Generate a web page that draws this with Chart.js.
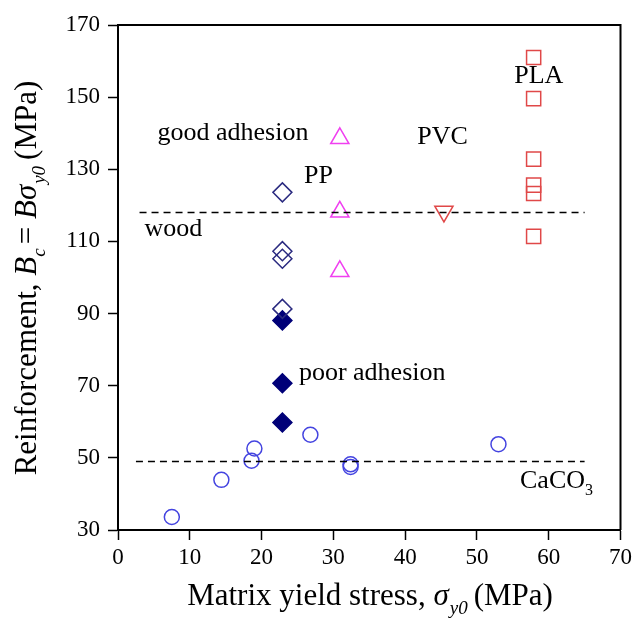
<!DOCTYPE html>
<html>
<head>
<meta charset="utf-8">
<script src="https://cdn.jsdelivr.net/npm/chart.js@4"></script>
<style>
  html, body { margin: 0; padding: 0; background: #fff; }
  #wrap { width: 636px; height: 621px; }
</style>
</head>
<body>
<div id="wrap"><canvas id="chart" width="636" height="621"></canvas></div>
<script>
// open circles
const circleX = [7.5, 14.4, 18.6, 19.0, 26.8, 32.4, 32.4, 53.0];
const circleY = [33.6, 43.9, 49.2, 52.6, 56.4, 47.5, 48.2, 53.8];
// PP, open and filled diamonds
const diamondOpenX = [22.9, 22.9, 22.9, 22.9];
const diamondOpenY = [123.6, 107.3, 105.2, 91.3];
const diamondFillX = [22.9, 22.9, 22.9];
const diamondFillY = [88.1, 70.7, 59.8];
// triangles up / down
const triUpX = [30.9, 30.9, 30.9];
const triUpY = [138.6, 118.2, 101.7];
const triDownX = [45.4];
const triDownY = [118.3];
// PLA squares
const squareX = [57.9, 57.9, 57.9, 57.9, 57.9, 57.9];
const squareY = [161.0, 149.6, 132.8, 125.6, 123.3, 111.4];
// reference lines
const woodX = [3, 65];
const woodY = [118, 118];
const caco3X = [2.5, 65];
const caco3Y = [49, 49];

const xTicks = [0, 10, 20, 30, 40, 50, 60, 70];
const yTicks = [30, 50, 70, 90, 110, 130, 150, 170];

const notes = [
    { runs: [{ t: 'good adhesion' }], x: 5.5, y: 140 },
    { runs: [{ t: 'PP' }], x: 25.9, y: 128.2 },
    { runs: [{ t: 'wood' }], x: 3.7, y: 113.3 },
    { runs: [{ t: 'PVC' }], x: 41.7, y: 138.9 },
    { runs: [{ t: 'PLA' }], x: 55.2, y: 155.8 },
    { runs: [{ t: 'poor adhesion' }], x: 25.2, y: 73.6 },
    { runs: [{ t: 'CaCO' }, { t: '3', sub: true }], x: 56.0, y: 43.6 }
];

const SERIF = '"Liberation Serif", "Times New Roman", serif';

const pts = (xs, ys) => xs.map((x, i) => ({ x, y: ys[i] }));

function runFont(r, size) {
    const s = r.sub ? Math.round(size * 0.62) : size;
    return (r.i ? 'italic ' : '') + s + 'px ' + SERIF;
}

function runsWidth(ctx, runs, size) {
    let w = 0;
    runs.forEach(r => {
        ctx.font = runFont(r, size);
        w += ctx.measureText(r.t).width + (r.gap || 0);
    });
    return w;
}

// draws left-aligned text runs, y is the middle of the line
function drawRuns(ctx, runs, x, y, size) {
    ctx.textBaseline = 'middle';
    ctx.textAlign = 'left';
    let cx = x;
    runs.forEach(r => {
        ctx.font = runFont(r, size);
        ctx.fillText(r.t, cx, r.sub ? y + size * 0.38 : y);
        cx += ctx.measureText(r.t).width + (r.gap || 0);
    });
}

const extras = {
    id: 'extras',
    afterDatasetsDraw(chart) {
        const { ctx, scales: { x, y } } = chart;
        ctx.save();
        ctx.fillStyle = '#000';
        notes.forEach(n => drawRuns(ctx, n.runs, x.getPixelForValue(n.x), y.getPixelForValue(n.y), 26));
        ctx.restore();
    },
    afterDraw(chart) {
        const { ctx, chartArea: a } = chart;
        ctx.save();
        ctx.strokeStyle = '#000';
        ctx.lineWidth = 2;
        ctx.beginPath();
        ctx.moveTo(a.left, a.top);
        ctx.lineTo(a.right, a.top);
        ctx.lineTo(a.right, a.bottom);
        ctx.stroke();

        ctx.fillStyle = '#000';
        const ts = 31;
        // x title
        const xt = [{ t: 'Matrix yield stress, ' }, { t: 'σ', i: true, gap: 1 },
            { t: 'y0', i: true, sub: true, gap: 6 }, { t: '(MPa)' }];
        drawRuns(ctx, xt, 370 - runsWidth(ctx, xt, ts) / 2, 597, ts);
        // y title
        const yt = [{ t: 'Reinforcement, ' }, { t: 'B', i: true }, { t: 'c', i: true, sub: true, gap: 4 },
            { t: '= ' }, { t: 'B', i: true }, { t: 'σ', i: true, gap: 1 },
            { t: 'y0', i: true, sub: true, gap: 6 }, { t: '(MPa)' }];
        ctx.translate(28, 278);
        ctx.rotate(-Math.PI / 2);
        drawRuns(ctx, yt, -runsWidth(ctx, yt, ts) / 2, 0, ts);
        ctx.restore();
    }
};

const tickFont = { family: SERIF, size: 23 };

new Chart(document.getElementById('chart'), {
    type: 'scatter',
    data: {
        datasets: [
            { data: pts(woodX, woodY), showLine: true, pointRadius: 0, borderColor: '#000', borderWidth: 1.5, borderDash: [7, 5] },
            { data: pts(caco3X, caco3Y), showLine: true, pointRadius: 0, borderColor: '#000', borderWidth: 1.5, borderDash: [7, 5] },
            { data: pts(circleX, circleY), pointStyle: 'circle', pointRadius: 7.5, borderColor: '#4444e0', backgroundColor: 'transparent', pointBorderWidth: 1.5 },
            { data: pts(diamondOpenX, diamondOpenY), pointStyle: 'rectRot', pointRadius: 9.5, borderColor: '#2b2b80', backgroundColor: 'transparent', pointBorderWidth: 1.5 },
            { data: pts(diamondFillX, diamondFillY), pointStyle: 'rectRot', pointRadius: 9.5, borderColor: '#000078', backgroundColor: '#000078', pointBorderWidth: 1.5 },
            { data: pts(triUpX, triUpY), pointStyle: 'triangle', pointRadius: 10.5, borderColor: '#f040f0', backgroundColor: 'transparent', pointBorderWidth: 1.5 },
            { data: pts(triDownX, triDownY), pointStyle: 'triangle', rotation: 180, pointRadius: 10.5, borderColor: '#e04848', backgroundColor: 'transparent', pointBorderWidth: 1.5 },
            { data: pts(squareX, squareY), pointStyle: 'rect', pointRadius: 10, borderColor: '#e04848', backgroundColor: 'transparent', pointBorderWidth: 1.5 }
        ]
    },
    options: {
        responsive: false,
        animation: false,
        events: [],
        layout: { padding: { top: 25, right: 13, left: 0, bottom: 0 } },
        plugins: { legend: { display: false }, tooltip: { enabled: false } },
        scales: {
            x: {
                type: 'linear', min: 0, max: 70,
                afterFit: s => { s.height = 91; },
                afterBuildTicks: s => { s.ticks = xTicks.map(v => ({ value: v })); },
                ticks: { font: tickFont, color: '#000', padding: 4, maxRotation: 0 },
                grid: { drawOnChartArea: false, drawTicks: true, tickLength: 10, tickWidth: 1.5, tickColor: '#000' },
                border: { color: '#000', width: 2 }
            },
            y: {
                type: 'linear', min: 30, max: 170,
                afterFit: s => { s.width = 118; },
                afterBuildTicks: s => { s.ticks = yTicks.map(v => ({ value: v })); },
                ticks: { font: tickFont, color: '#000', padding: 8 },
                grid: { drawOnChartArea: false, drawTicks: true, tickLength: 10, tickWidth: 1.5, tickColor: '#000' },
                border: { color: '#000', width: 2 }
            }
        }
    },
    plugins: [extras]
});
</script>
</body>
</html>
